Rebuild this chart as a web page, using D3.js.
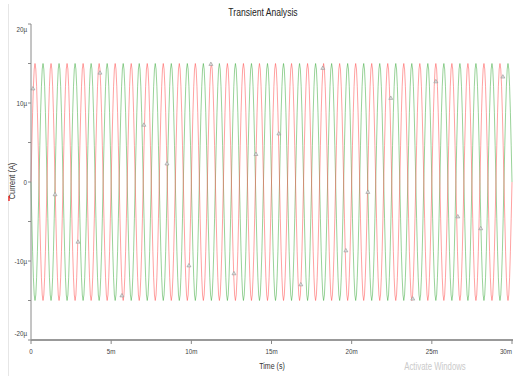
<!DOCTYPE html>
<html>
<head>
<meta charset="utf-8">
<script src="https://d3js.org/d3.v7.min.js"></script>
<style>
  * { margin: 0; padding: 0; }
  body { background: #fff; width: 513px; height: 379px; overflow: hidden; }
  svg { display: block; font-family: 'Liberation Sans', Arial, sans-serif; }
</style>
</head>
<body>
<svg id="chart" width="513" height="379"></svg>
<script>
// one period (1 ms) of each trace, 20 samples, in µA
const cycleRed = [0, 4.6, 8.8, 12.1, 14.3, 15, 14.3, 12.1, 8.8, 4.6, 0, -4.6, -8.8, -12.1, -14.3, -15, -14.3, -12.1, -8.8, -4.6];
const cycleGreen = [0, -4.6, -8.8, -12.1, -14.3, -15, -14.3, -12.1, -8.8, -4.6, 0, 4.6, 8.8, 12.1, 14.3, 15, 14.3, 12.1, 8.8, 4.6];
const periodMs = 1;
const cycleCount = 30;

// probe markers (time in ms, value in µA)
const markerTimes = [0.12, 1.5, 2.93, 4.3, 5.67, 7.04, 8.48, 9.85, 11.22, 12.66, 14.03, 15.46, 16.83, 18.2, 19.64, 21.01, 22.44, 23.81, 25.25, 26.62, 28.05, 29.43];
const markerValues = [11.8, -1.6, -7.6, 13.8, -14.4, 7.2, 2.3, -10.6, 14.9, -11.6, 3.5, 6.1, -13.0, 14.4, -8.7, -1.3, 10.6, -14.8, 12.7, -4.4, -5.9, 13.3];

const xTicks = [0, 5, 10, 15, 20, 25, 30];
const xTickLabels = ['0', '5m', '10m', '15m', '20m', '25m', '30m'];
const yTicks = [20, 10, 0, -10, -20];
const yTickLabels = ['20µ', '10µ', '0', '-10µ', '-20µ'];
const yMinorTicks = [20, 15, 10, 5, 0, -5, -10, -15, -20];

const svg = d3.select('#chart');
const x = d3.scaleLinear().domain([0, 30]).range([31, 512]);
const y = d3.scaleLinear().domain([-20, 20]).range([340, 24]);
const narrow = 0.78;

// faint page border line on the left
svg.append('line').attr('x1', 8.5).attr('x2', 8.5).attr('y1', 4).attr('y2', 376)
  .attr('stroke', '#e6e6e6').attr('stroke-width', 1);

function expand(cycle) {
  const pts = [];
  const n = cycle.length;
  for (let c = 0; c < cycleCount; c++) {
    cycle.forEach((v, i) => pts.push([c * periodMs + i * periodMs / n, v]));
  }
  pts.push([cycleCount * periodMs, cycle[0]]);
  return pts;
}

const line = d3.line().x(d => x(d[0])).y(d => y(d[1]));

const plot = svg.append('g');
plot.append('path').datum(expand(cycleGreen))
  .attr('d', line).attr('fill', 'none')
  .attr('stroke', '#3aa83a').attr('stroke-width', 0.7).attr('stroke-opacity', 0.75);
plot.append('path').datum(expand(cycleRed))
  .attr('d', line).attr('fill', 'none')
  .attr('stroke', '#ff4a4a').attr('stroke-width', 0.7).attr('stroke-opacity', 0.75);

// markers
plot.selectAll('path.marker')
  .data(markerTimes.map((t, i) => [t, markerValues[i]]))
  .join('path')
  .attr('class', 'marker')
  .attr('transform', d => `translate(${x(d[0])},${y(d[1])})`)
  .attr('d', d3.symbol().type(d3.symbolTriangle).size(7))
  .attr('fill', '#ddd').attr('stroke', '#888').attr('stroke-width', 0.5);

// narrow text helper
function label(g, tx, ty, str, size, color, anchor, rot) {
  return g.append('text')
    .attr('transform', `translate(${tx},${ty})${rot ? ' rotate(' + rot + ')' : ''} scale(${narrow},1)`)
    .attr('text-anchor', anchor || 'middle')
    .attr('font-size', size).attr('fill', color)
    .text(str);
}

// y axis
svg.append('line').attr('x1', 31).attr('x2', 31).attr('y1', y(20)).attr('y2', y(-20))
  .attr('stroke', '#8a8a8a').attr('stroke-width', 1);
svg.selectAll('line.ytick').data(yMinorTicks).join('line')
  .attr('class', 'ytick')
  .attr('x1', 28).attr('x2', 31)
  .attr('y1', d => y(d)).attr('y2', d => y(d))
  .attr('stroke', '#8a8a8a');
yTicks.forEach((d, i) => {
  label(svg, 27, y(d) + (d === 20 ? 8 : d === -20 ? -4 : 3), yTickLabels[i], 8, '#444', 'end');
});

// x axis
svg.append('line').attr('x1', 31).attr('x2', 513).attr('y1', 340).attr('y2', 340)
  .attr('stroke', '#999').attr('stroke-width', 2);
svg.selectAll('line.xtick').data(xTicks).join('line')
  .attr('class', 'xtick')
  .attr('x1', d => x(d)).attr('x2', d => x(d))
  .attr('y1', 340).attr('y2', 344)
  .attr('stroke', '#888');
xTicks.forEach((d, i) => {
  label(svg, x(d), 354, xTickLabels[i], 8, '#444', i === xTicks.length - 1 ? 'end' : 'middle');
});

// titles
label(svg, 263, 16, 'Transient Analysis', 11, '#222');
label(svg, 272, 369, 'Time (s)', 9, '#333');
label(svg, 15, 181, 'Current (A)', 9.5, '#333', 'middle', -90);
svg.append('line').attr('x1', 9).attr('x2', 9).attr('y1', 196).attr('y2', 201)
  .attr('stroke', '#e00').attr('stroke-width', 1.2);

// watermark
label(svg, 435, 370, 'Activate Windows', 10, '#cacaca');
</script>
</body>
</html>
